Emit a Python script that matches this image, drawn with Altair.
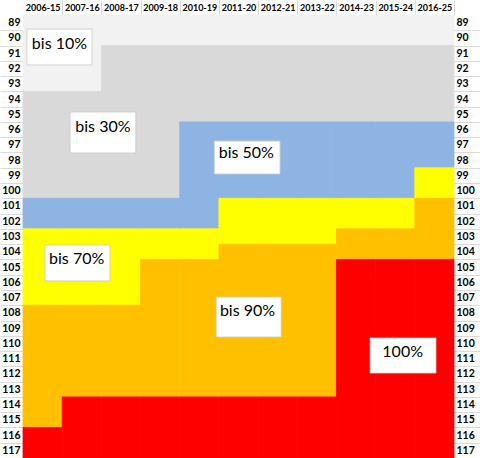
import altair as alt
import pandas as pd

periods = ["2006-15", "2007-16", "2008-17", "2009-18", "2010-19", "2011-20",
           "2012-21", "2013-22", "2014-23", "2015-24", "2016-25"]
first_row, last_row = 89, 117
categories = ["bis 10%", "bis 30%", "bis 50%", "bis 70%", "bis 90%", "100%"]
colors = ["#F2F2F2", "#D9D9D9", "#8DB4E2", "#FFFF00", "#FFC000", "#FF0000"]

# first row of each band, per period
start_10 = [89, 89, 89, 89, 89, 89, 89, 89, 89, 89, 89]
start_30 = [94, 94, 91, 91, 91, 91, 91, 91, 91, 91, 91]
start_50 = [101, 101, 101, 101, 96, 96, 96, 96, 96, 96, 96]
start_70 = [103, 103, 103, 103, 103, 101, 101, 101, 101, 101, 99]
start_90 = [108, 108, 108, 105, 105, 104, 104, 104, 103, 103, 101]
start_100 = [116, 114, 114, 114, 114, 114, 114, 114, 105, 105, 105]
starts = [start_10, start_30, start_50, start_70, start_90, start_100]

# annotation boxes (label, box corners and text anchor in column/row units)
notes = [
    ("bis 10%", 0.10, 1.76, 89.42, 91.77, 0.93, 90.40),
    ("bis 30%", 1.20, 2.88, 94.85, 97.53, 2.04, 95.83),
    ("bis 50%", 4.88, 6.56, 96.75, 98.91, 5.70, 97.53),
    ("bis 70%", 0.56, 2.22, 103.56, 105.91, 1.37, 104.47),
    ("bis 90%", 4.93, 6.59, 106.96, 109.58, 5.73, 107.88),
    ("100%", 8.86, 10.54, 109.64, 111.94, 9.69, 110.56),
]

rows = []
for i, p in enumerate(periods):
    for k, cat in enumerate(categories):
        s = starts[k][i]
        e = (starts[k + 1][i] - 1) if k + 1 < len(categories) else last_row
        if e >= s:
            rows.append({"period": p, "cat": cat, "x0": i, "x1": i + 1,
                         "y0": s - 0.5, "y1": e + 0.5})
cells = pd.DataFrame(rows)
ann = pd.DataFrame(notes, columns=["label", "bx0", "bx1", "by0", "by1", "tx", "ty"])

W, H = 431, 443
ncol = len(periods)
nrow = last_row - first_row + 1
half_col = W / ncol / 2
half_row = H / nrow / 2

xscale = alt.Scale(domain=[0, ncol], nice=False, zero=False)
yscale = alt.Scale(domain=[first_row - 0.5, last_row + 0.5], reverse=True, nice=False, zero=False)
cscale = alt.Scale(domain=categories, range=colors)

label_expr = "[" + ",".join("'" + p + "'" for p in periods) + "][floor(datum.value)]"

x_axis = alt.Axis(orient="top", values=[i + 0.5 for i in range(ncol)], labelExpr=label_expr,
                  tickSize=15, tickOffset=half_col, labelOffset=-half_col, labelPadding=-12,
                  tickColor="#DADADA", domain=False, grid=False, labelFont="Lato",
                  labelFontWeight="bold", labelFontSize=9, labelColor="#000000", title=None)
y_left = alt.Axis(orient="left", values=list(range(first_row, last_row + 1)), format="d",
                  tickSize=23, tickOffset=half_row, labelOffset=-half_row, labelPadding=-20,
                  tickColor="#DADADA", domain=False, grid=False, labelFont="Lato",
                  labelFontWeight="bold", labelFontSize=10.5, labelColor="#000000", title=None)
y_right = alt.Axis(orient="right", values=list(range(first_row, last_row + 1)), format="d",
                   tickSize=26, tickOffset=half_row, labelOffset=-half_row, labelPadding=-24,
                   tickColor="#DADADA", domain=False, grid=False, labelFont="Lato",
                   labelFontWeight="bold", labelFontSize=10.5, labelColor="#000000", title=None)

cell_layer = alt.Chart(cells).mark_rect(strokeWidth=0.8).encode(
    x=alt.X("x0:Q", scale=xscale, axis=x_axis),
    x2="x1:Q",
    y=alt.Y("y0:Q", scale=yscale, axis=y_left),
    y2="y1:Q",
    color=alt.Color("cat:N", scale=cscale, legend=None),
    stroke=alt.Stroke("cat:N", scale=cscale, legend=None),
)

box_layer = alt.Chart(ann).mark_rect(fill="#FFFFFF", stroke="#C8C8C8", strokeWidth=0.8).encode(
    x=alt.X("bx0:Q", scale=xscale, axis=None),
    x2="bx1:Q",
    y=alt.Y("by0:Q", scale=yscale, axis=y_right),
    y2="by1:Q",
)

text_layer = alt.Chart(ann).mark_text(font="Lato", fontSize=16, color="#000000",
                                       align="center", baseline="middle").encode(
    x=alt.X("tx:Q", scale=xscale, axis=None),
    y=alt.Y("ty:Q", scale=yscale, axis=None),
    text="label:N",
)

chart = alt.layer(cell_layer, box_layer, text_layer).resolve_axis(
    x="independent", y="independent"
).properties(
    width=W, height=H,
    padding={"left": 23, "top": 15, "right": 26, "bottom": 0},
    autosize="none",
    background="#FFFFFF",
).configure_view(stroke=None)

chart.save("out.html", embed_options={"renderer": "svg", "actions": False})
